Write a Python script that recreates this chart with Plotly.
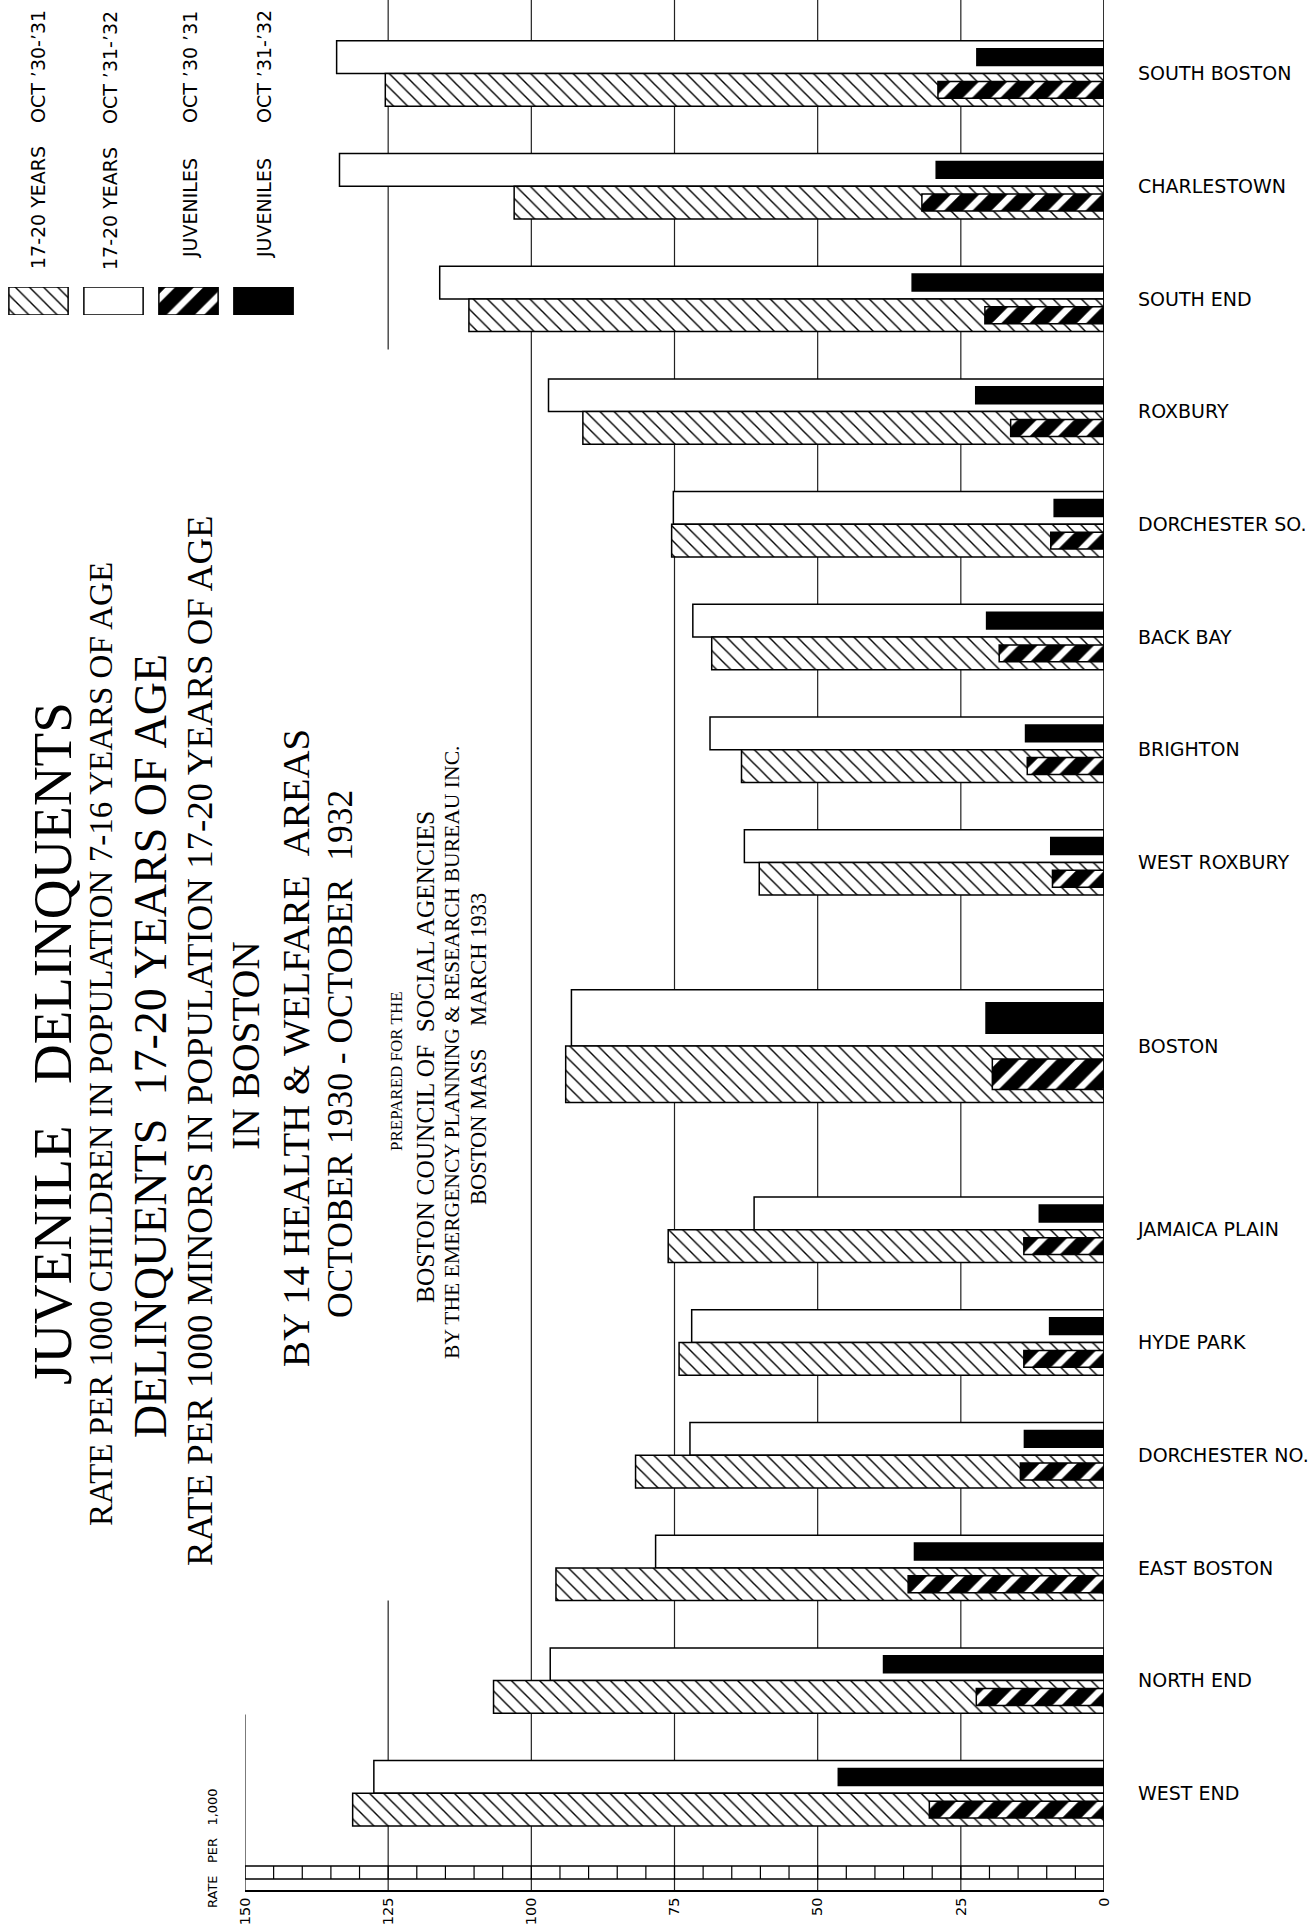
import plotly.graph_objects as go

# ---------------- data ----------------
areas = ["SOUTH BOSTON", "CHARLESTOWN", "SOUTH END", "ROXBURY", "DORCHESTER SO.",
         "BACK BAY", "BRIGHTON", "WEST ROXBURY", "BOSTON", "JAMAICA PLAIN",
         "HYDE PARK", "DORCHESTER NO.", "EAST BOSTON", "NORTH END", "WEST END"]
minors_30_31 = [125.5, 103.0, 110.9, 91.0, 75.5, 68.5, 63.3, 60.2, 94.0, 76.1,
                74.2, 81.8, 95.7, 106.6, 131.2]
minors_31_32 = [134.0, 133.5, 116.0, 97.0, 75.2, 71.8, 68.8, 62.8, 93.0, 61.1,
                72.0, 72.3, 78.3, 96.7, 127.5]
juveniles_30_31 = [29.0, 31.8, 20.8, 16.3, 9.3, 18.3, 13.4, 9.0, 19.5, 14.0,
                   14.0, 14.6, 34.2, 22.3, 30.5]
juveniles_31_32 = [22.2, 29.3, 33.5, 22.4, 8.7, 20.5, 13.7, 9.3, 20.6, 11.3,
                   9.5, 13.9, 33.1, 38.5, 46.4]
x_ticks = [150, 125, 100, 75, 50, 25, 0]

legend_labels = [("17-20 YEARS", "OCT \u201930-\u201931"),
                 ("17-20 YEARS", "OCT \u201931-\u201932"),
                 ("JUVENILES", "OCT \u201930 \u201931"),
                 ("JUVENILES", "OCT \u201931-\u201932")]

title_lines = [
    "JUVENILE\u00a0\u00a0\u00a0DELINQUENTS",
    "RATE PER 1000 CHILDREN IN POPULATION 7-16 YEARS OF AGE",
    "DELINQUENTS\u00a0\u00a017-20 YEARS OF AGE",
    "RATE PER 1000 MINORS IN POPULATION 17-20 YEARS OF AGE",
    "IN BOSTON",
    "BY 14 HEALTH &amp; WELFARE\u00a0\u00a0AREAS",
    "OCTOBER 1930 - OCTOBER\u00a0\u00a01932",
    "PREPARED FOR THE",
    "BOSTON COUNCIL OF\u00a0\u00a0SOCIAL AGENCIES",
    "BY THE EMERGENCY PLANNING &amp; RESEARCH BUREAU INC.",
    "BOSTON MASS\u00a0\u00a0\u00a0\u00a0MARCH 1933",
]

# ---------------- layout geometry (pixels) ----------------
W, H = 1315, 1930
PLOT_BOTTOM = 1890          # px where the x-axis line sits
X150_PX, X0_PX = 245, 1104  # px of value 150 and 0
Y0_PX, UNIT_PX = 73.5, 112.7  # px of first group centre, px per group
BOSTON_GAP = 1.63


def paper_x(px):
    return px / W


def paper_y(py):
    return (PLOT_BOTTOM - py) / PLOT_BOTTOM


def y_unit(py):
    return (py - Y0_PX) / UNIT_PX


# group centres
pos = []
p = 0.0
for i, a in enumerate(areas):
    if i > 0:
        p += BOSTON_GAP if (a == "BOSTON" or areas[i - 1] == "BOSTON") else 1.0
    pos.append(p)

main_w = [0.5 if a == "BOSTON" else 0.29 for a in areas]
inner_w = [0.27 if a == "BOSTON" else 0.15 for a in areas]
y_top = [c - w / 2 for c, w in zip(pos, main_w)]
y_bot = [c + w / 2 for c, w in zip(pos, main_w)]

Y_TOP = y_unit(0)
Y_BOTTOM = y_unit(PLOT_BOTTOM)
RULER_TOP = y_unit(1866)
RULER_MID = y_unit(1879)

LINE = dict(color="black", width=1.5)
light_hatch = dict(shape="\\", fgcolor="black", bgcolor="white", size=10,
                   solidity=0.14, fillmode="replace")
bold_hatch = dict(shape="/", fgcolor="white", bgcolor="black", size=20,
                  solidity=0.33, fillmode="replace")

fig = go.Figure()
fig.add_trace(go.Bar(orientation="h", x=minors_31_32, y=y_top, width=main_w,
                     marker=dict(color="white", line=LINE), name="17-20 Oct 31-32"))
fig.add_trace(go.Bar(orientation="h", x=minors_30_31, y=y_bot, width=main_w,
                     marker=dict(color="white", pattern=light_hatch, line=LINE),
                     name="17-20 Oct 30-31"))
fig.add_trace(go.Bar(orientation="h", x=juveniles_31_32, y=y_top, width=inner_w,
                     marker=dict(color="black", line=LINE), name="Juv Oct 31-32"))
fig.add_trace(go.Bar(orientation="h", x=juveniles_30_31, y=y_bot, width=inner_w,
                     marker=dict(color="black", pattern=bold_hatch, line=LINE),
                     name="Juv Oct 30-31"))

# legend swatches (small subplot)
swatch_styles = [dict(color="white", pattern=light_hatch, line=LINE),
                 dict(color="white", line=LINE),
                 dict(color="black", pattern=bold_hatch, line=LINE),
                 dict(color="black", line=LINE)]
for k, st in enumerate(swatch_styles):
    fig.add_trace(go.Bar(x=[k], y=[1], width=0.79, marker=st,
                         xaxis="x2", yaxis="y2", showlegend=False))

# ---------------- shapes: grid, ruler ----------------
shapes = []
grid_segments = {v: [(Y_TOP, Y_BOTTOM)] for v in (25, 50, 75, 100)}
grid_segments[125] = [(Y_TOP, pos[2] + 0.45), (pos[12] + 0.29, Y_BOTTOM)]
grid_segments[150] = [(pos[13] + 0.30, Y_BOTTOM)]
for v, segs in grid_segments.items():
    for y0, y1 in segs:
        shapes.append(dict(type="line", xref="x", yref="y", x0=v, x1=v, y0=y0, y1=y1,
                           line=dict(color="#222", width=1.2), layer="below"))
# zero line
shapes.append(dict(type="line", xref="x", yref="y", x0=0, x1=0, y0=Y_TOP, y1=Y_BOTTOM,
                   line=dict(color="black", width=1.6), layer="above"))
# ruler
for yy in (RULER_TOP, RULER_MID):
    shapes.append(dict(type="line", xref="x", yref="y", x0=0, x1=150, y0=yy, y1=yy,
                       line=dict(color="black", width=1.4)))
for v in range(0, 151, 5):
    shapes.append(dict(type="line", xref="x", yref="y", x0=v, x1=v,
                       y0=RULER_TOP, y1=RULER_MID, line=dict(color="black", width=1.2)))

# ---------------- annotations ----------------
ann = []
serif = "Liberation Serif"
title_specs = [  # x px, y centre px, font size
    (52, 1044, 55), (101, 1044, 33), (150, 1046, 46), (199, 1041, 36.8),
    (246, 1046, 39.5), (295, 1048, 38.8), (340, 1054, 35.5), (396, 1071, 17),
    (425, 1057, 25.4), (452, 1052, 21.6), (478, 1049, 22.5),
]
for txt, (xp, yp, fs) in zip(title_lines, title_specs):
    ann.append(dict(text=txt, x=paper_x(xp), y=paper_y(yp), xref="paper", yref="paper",
                    showarrow=False, textangle=-90, xanchor="center", yanchor="middle",
                    font=dict(family=serif, size=fs, color="black")))

legend_x = [38, 110, 190, 264]
for (lab, date), xp in zip(legend_labels, legend_x):
    ann.append(dict(text=lab, x=paper_x(xp), y=paper_y(208), xref="paper", yref="paper",
                    showarrow=False, textangle=-90, xanchor="center", yanchor="middle",
                    font=dict(family="DejaVu Sans", size=19, color="black")))
    ann.append(dict(text=date, x=paper_x(xp), y=paper_y(67), xref="paper", yref="paper",
                    showarrow=False, textangle=-90, xanchor="center", yanchor="middle",
                    font=dict(family="DejaVu Sans", size=19, color="black")))

ann.append(dict(text="RATE\u00a0\u00a0\u00a0PER\u00a0\u00a0\u00a01,000", x=paper_x(212),
                y=paper_y(1848), xref="paper", yref="paper", showarrow=False,
                textangle=-90, xanchor="center", yanchor="middle",
                font=dict(family="DejaVu Sans", size=13, color="black")))

fig.update_layout(
    width=W, height=H, template="none",
    paper_bgcolor="white", plot_bgcolor="white",
    margin=dict(l=0, r=0, t=0, b=H - PLOT_BOTTOM),
    barmode="overlay", showlegend=False, hovermode=False,
    shapes=shapes, annotations=ann,
    xaxis=dict(domain=[X150_PX / W, X0_PX / W], range=[150, 0], tickvals=x_ticks,
               ticktext=[str(t) for t in x_ticks], tickangle=-90, ticks="",
               showgrid=False, zeroline=False, showline=True, linecolor="black",
               linewidth=1.5, automargin=False,
               tickfont=dict(family="DejaVu Sans", size=14.5, color="black")),
    yaxis=dict(range=[Y_BOTTOM, Y_TOP], side="right", tickvals=pos, ticktext=areas,
               ticks="", showgrid=False, zeroline=False, showline=False,
               automargin=False, ticklabelstandoff=33,
               tickfont=dict(family="DejaVu Sans", size=19, color="black")),
    xaxis2=dict(domain=[1 / W, 301 / W], range=[-0.5, 3.5], anchor="y2", visible=False),
    yaxis2=dict(domain=[paper_y(315), paper_y(287)], range=[0, 1], anchor="x2",
                visible=False),
)

fig.write_html("out.html", config={"displayModeBar": False},
               post_script="document.body.style.margin='0';"
                           "document.body.style.overflow='hidden';")
